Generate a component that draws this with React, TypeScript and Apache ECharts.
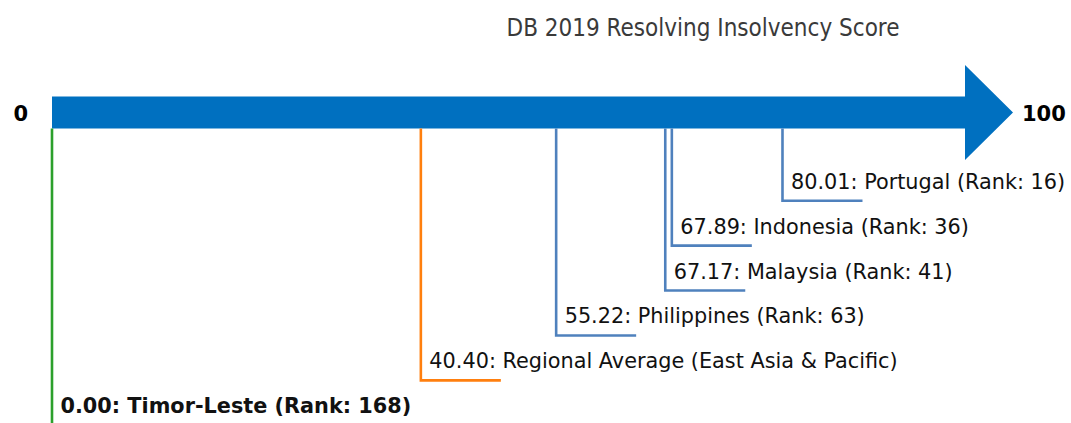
import React, { useEffect, useRef } from "react";
import * as echarts from "echarts";

// ---- data ----
const TITLE = "DB 2019 Resolving Insolvency Score";
const AXIS_MIN = 0;
const AXIS_MAX = 100;
const AXIS_MIN_LABEL = "0";
const AXIS_MAX_LABEL = "100";
const names = [
  "Portugal",
  "Indonesia",
  "Malaysia",
  "Philippines",
  "Regional Average (East Asia & Pacific)",
  "Timor-Leste",
];
const scores = [80.01, 67.89, 67.17, 55.22, 40.4, 0.0];
const ranks: (number | null)[] = [16, 36, 41, 63, null, 168];
const kinds = ["peer", "peer", "peer", "peer", "regional", "focus"];
const levels = [1, 2, 3, 4, 5, 6];

// ---- styles ----
const ARROW_COLOR = "#0070C0";
const KIND_COLOR: Record<string, string> = {
  peer: "#4F81BD",
  regional: "#FF7F0E",
  focus: "#2CA02C",
};
const FONT = "DejaVu Sans, Noto Sans, sans-serif";
const ARROW_LEVEL = -0.962;
const SHAFT_HALF = 16;
const HEAD_HALF = 47.5;
const HEAD_LEN = 48;
const TAIL_LEN = 80;

export default function App() {
  const ref = useRef<HTMLDivElement>(null);
  useEffect(() => {
    if (!ref.current) return;
    const chart = echarts.init(ref.current, null, { renderer: "svg" });

    const callouts = names.map((n, i) => [scores[i], levels[i], i]);

    const option: any = {
      animation: false,
      title: {
        text: TITLE,
        left: 698,
        top: 11,
        textAlign: "center",
        textStyle: {
          fontFamily: "DejaVu Sans Condensed, DejaVu Sans, sans-serif",
          fontSize: 24,
          fontWeight: "normal",
          color: "#3a3a3a",
        },
      },
      grid: { left: 52, right: 106, top: 66, bottom: 0 },
      xAxis: {
        type: "value",
        min: AXIS_MIN,
        max: AXIS_MAX,
        show: false,
      },
      yAxis: {
        type: "value",
        min: -2,
        max: 5.95,
        inverse: true,
        show: false,
      },
      series: [
        {
          type: "custom",
          clip: false,
          data: [[AXIS_MIN, ARROW_LEVEL]],
          renderItem: (params: any, api: any) => {
            const p0 = api.coord([AXIS_MIN, ARROW_LEVEL]);
            const p1 = api.coord([AXIS_MAX, ARROW_LEVEL]);
            const cy = p0[1];
            return {
              type: "group",
              children: [
                {
                  type: "polygon",
                  shape: {
                    points: [
                      [p0[0], cy - SHAFT_HALF],
                      [p1[0], cy - SHAFT_HALF],
                      [p1[0], cy - HEAD_HALF],
                      [p1[0] + HEAD_LEN, cy],
                      [p1[0], cy + HEAD_HALF],
                      [p1[0], cy + SHAFT_HALF],
                      [p0[0], cy + SHAFT_HALF],
                    ],
                  },
                  style: { fill: ARROW_COLOR },
                },
                {
                  type: "text",
                  style: {
                    text: AXIS_MIN_LABEL,
                    x: p0[0] - 24,
                    y: cy + 1,
                    align: "right",
                    verticalAlign: "middle",
                    fontFamily: FONT,
                    fontSize: 21,
                    fontWeight: "bold",
                    fill: "#000",
                  },
                },
                {
                  type: "text",
                  style: {
                    text: AXIS_MAX_LABEL,
                    x: p1[0] + HEAD_LEN + 9,
                    y: cy + 1,
                    align: "left",
                    verticalAlign: "middle",
                    fontFamily: FONT,
                    fontSize: 21,
                    fontWeight: "bold",
                    fill: "#000",
                  },
                },
              ],
            };
          },
        },
        {
          type: "custom",
          clip: false,
          data: callouts,
          renderItem: (params: any, api: any) => {
            const v = api.value(0);
            const lv = api.value(1);
            const i = api.value(2);
            const p = api.coord([v, lv]);
            const top = api.coord([v, ARROW_LEVEL])[1] + SHAFT_HALF;
            const color = KIND_COLOR[kinds[i]];
            const r = ranks[i];
            const label =
              `${scores[i].toFixed(2)}: ${names[i]}` +
              (r != null ? ` (Rank: ${r})` : "");
            return {
              type: "group",
              children: [
                {
                  type: "polyline",
                  shape: {
                    points: [
                      [p[0], top],
                      [p[0], p[1]],
                      [p[0] + TAIL_LEN, p[1]],
                    ],
                  },
                  style: {
                    stroke: color,
                    lineWidth: 2.6,
                    fill: null,
                    lineJoin: "miter",
                  },
                },
                {
                  type: "text",
                  style: {
                    text: label,
                    x: p[0] + 8.5,
                    y: p[1] - 19,
                    align: "left",
                    verticalAlign: "middle",
                    fontFamily: FONT,
                    fontSize: 20.8,
                    fontWeight: kinds[i] === "focus" ? "bold" : "normal",
                    fill: "#111",
                  },
                },
              ],
            };
          },
        },
      ],
    };
    chart.setOption(option);
    return () => chart.dispose();
  }, []);
  return (
    <div
      ref={ref}
      style={{ position: "absolute", left: 0, top: 0, width: 1071, height: 423 }}
    />
  );
}
